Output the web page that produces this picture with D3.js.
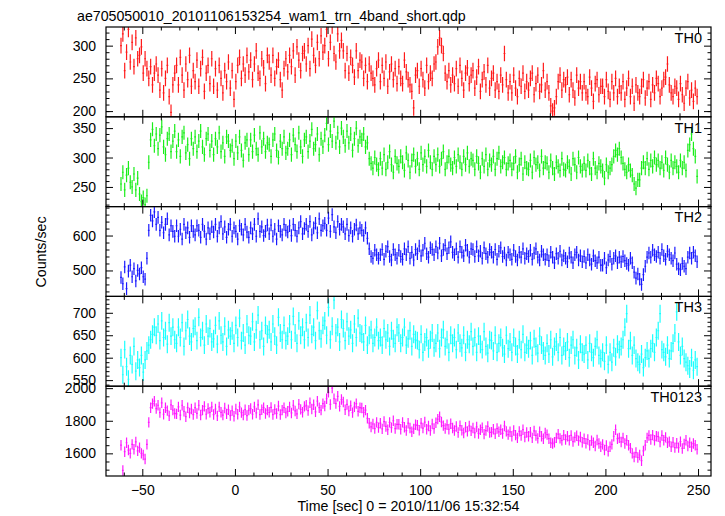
<!DOCTYPE html>
<html><head><meta charset="utf-8">
<script src="https://cdn.jsdelivr.net/npm/d3@7"></script>
<style>
body{margin:0;background:#fff}
text{font-family:"Liberation Sans",Arial,Helvetica,sans-serif;fill:#000}
</style>
</head><body>
<svg id="c" width="725" height="516"></svg>
<script>
const title = "ae705050010_20101106153254_wam1_trn_4band_short.qdp";
const xLabel = "Time [sec] 0 = 2010/11/06 15:32:54";
const yLabel = "Counts/sec";
const bandNames = ["TH0","TH1","TH2","TH3","TH0123"];
const bandColors = ["#ff1a1a","#1aee1a","#1a1aff","#1affff","#ff1aff"];
const binStart = -62;   // first bin start time (sec)
const binSize = 1;      // sec

const th0 = [
300,318,262,290,325,275,305,268,312,280,
285,298,258,280,265,250,268,240,258,272,
255,232,265,228,250,270,222,198,240,258,
270,240,282,255,232,272,248,285,238,262,
245,278,238,265,282,230,258,270,242,280,
238,265,232,270,250,228,262,245,275,235,
262,218,245,270,282,250,272,255,285,260,
278,248,272,292,258,250,280,266,242,285,
275,255,285,250,268,278,248,232,265,280,
260,285,268,292,255,298,278,262,288,292,
272,300,265,310,285,270,305,280,315,290,
300,325,280,305,330,288,275,318,292,308,
292,262,288,258,282,270,252,292,262,278,
275,250,270,245,272,258,250,240,265,278,
245,270,250,275,238,260,272,248,265,242,
268,250,242,278,260,248,240,230,205,255,
262,238,265,248,235,270,245,258,250,272,
275,298,312,300,288,258,245,262,240,255,
242,265,238,270,250,232,258,266,242,255,
262,235,252,268,230,248,260,240,270,235,
250,258,232,245,230,255,240,288,248,228,
245,228,255,235,222,250,238,258,230,245,
232,250,258,225,242,255,230,240,262,232,
245,228,208,200,205,222,245,255,232,248,
240,252,225,248,232,220,255,235,245,228,
245,228,222,252,235,215,242,248,225,238,
238,222,248,230,218,245,228,250,222,238,
228,245,218,235,250,222,238,212,240,228,
222,238,248,220,235,245,218,240,228,250,
242,222,235,248,252,272,240,228,222,238,
235,218,242,225,212,235,245,220,232,215,
235,222];

const th1 = [
255,275,245,270,282,258,250,272,245,265,
238,225,232,220,235,292,330,348,320,340,
315,338,352,318,305,332,340,310,328,345,
310,330,302,335,342,308,322,298,332,315,
335,310,328,345,318,305,332,340,312,328,
305,332,318,342,310,325,302,335,328,312,
320,298,328,308,335,312,295,325,330,305,
330,310,338,315,305,342,318,332,310,325,
322,302,330,340,312,300,328,315,335,308,
315,330,305,338,322,310,342,318,302,330,
335,310,328,348,315,322,340,305,332,318,
338,358,322,345,328,362,325,342,318,350,
335,320,345,325,340,312,332,350,320,335,
330,340,318,325,298,290,282,300,288,280,
298,282,305,280,292,310,288,275,302,290,
285,302,292,278,308,295,275,295,305,285,
298,280,308,288,302,285,312,292,280,302,
288,305,285,298,310,280,292,302,288,282,
300,285,305,292,280,302,288,308,285,298,
295,280,302,290,275,298,285,305,280,295,
288,302,280,298,308,285,292,300,280,290,
295,280,290,302,275,288,298,272,292,282,
280,295,275,300,288,292,278,302,282,292,
290,275,295,282,272,292,285,278,298,280,
278,292,285,272,298,288,275,300,285,278,
290,278,295,282,272,298,282,275,290,285,
278,265,288,275,282,288,302,312,305,315,
300,290,280,275,288,278,270,255,248,262,
262,282,292,282,298,280,295,285,300,288,
295,282,292,278,300,288,275,295,282,292,
285,275,295,282,292,278,312,322,340,315,
302,268];

const th2 = [
480,462,510,448,498,515,482,505,470,500,
490,508,482,475,535,615,658,642,668,632,
652,615,638,608,632,648,602,628,612,598,
628,598,618,590,632,608,622,595,628,612,
602,628,615,595,632,612,590,622,605,625,
610,632,598,622,640,605,625,595,618,632,
598,622,612,590,628,618,602,632,610,595,
622,605,632,598,648,612,625,600,612,630,
605,630,598,618,590,628,612,602,632,615,
610,628,600,632,615,598,622,640,605,620,
632,612,640,602,622,635,608,648,615,628,
635,615,650,612,660,625,608,640,618,632,
625,605,632,600,622,598,618,630,605,622,
615,600,622,592,562,540,535,558,545,535,
545,560,532,555,568,540,530,560,545,535,
558,540,532,562,545,568,535,552,530,560,
548,570,542,558,578,548,538,565,560,545,
568,550,578,542,560,572,548,565,582,552,
545,562,538,568,552,542,572,558,538,562,
560,540,568,542,555,535,565,548,538,560,
552,538,560,532,555,565,540,550,530,552,
545,532,558,540,530,552,538,562,535,548,
540,558,532,550,562,538,530,555,545,532,
545,528,552,538,522,548,535,555,530,542,
535,525,550,538,522,545,552,530,542,525,
540,522,545,530,518,542,528,522,538,515,
515,535,508,530,540,518,535,542,522,538,
525,540,528,520,515,535,522,495,478,490,
475,460,488,512,538,550,538,558,545,540,
552,535,560,542,532,555,545,535,528,550,
518,505,502,520,512,505,538,550,535,552,
542,525];

const th3 = [
600,562,618,580,552,605,585,625,570,595,
578,605,568,595,615,628,640,652,668,650,
675,638,682,645,660,630,678,648,668,640,
632,668,645,678,625,660,685,648,635,665,
670,638,690,645,660,628,675,648,665,635,
642,672,630,682,650,635,670,625,662,648,
660,632,672,645,688,638,655,628,675,650,
648,680,635,662,695,640,660,625,672,652,
662,635,675,648,628,690,655,640,672,638,
648,675,640,692,655,632,682,650,668,640,
678,645,695,652,668,638,705,660,642,672,
682,650,712,640,670,728,655,668,635,685,
665,638,680,648,662,632,675,645,688,655,
652,635,672,628,650,662,632,645,668,638,
645,628,665,640,655,625,660,642,632,668,
655,632,645,668,628,642,660,625,652,640,
638,618,652,612,635,645,620,640,655,622,
632,655,620,645,662,625,640,612,650,632,
645,618,655,632,622,650,612,640,630,658,
625,645,612,648,630,618,658,625,610,640,
638,615,650,612,632,645,622,608,650,620,
635,612,645,625,608,640,618,652,612,628,
620,638,605,642,625,610,648,628,615,605,
632,608,640,602,625,635,612,645,605,625,
615,635,600,628,640,605,622,595,630,612,
608,628,595,632,612,600,625,640,605,598,
612,592,628,585,612,590,622,602,630,618,
625,640,668,698,620,638,605,628,598,590,
585,608,578,600,615,598,620,632,612,645,
660,698,618,612,602,628,598,615,632,655,
702,635,605,625,598,590,582,575,600,572,
595,580];

const th0123 = [
1650,1495,1610,1665,1620,1600,1655,1625,1670,1615,
1635,1600,1590,1565,1655,1790,1880,1905,1920,1875,
1895,1850,1910,1840,1880,1862,1830,1898,1865,1845,
1842,1885,1835,1895,1858,1825,1880,1848,1872,1838,
1880,1845,1895,1835,1865,1888,1840,1875,1852,1885,
1838,1872,1830,1885,1852,1835,1878,1842,1868,1832,
1862,1828,1872,1840,1885,1850,1835,1868,1832,1865,
1875,1840,1885,1848,1898,1838,1868,1880,1845,1865,
1852,1882,1838,1870,1845,1890,1838,1865,1880,1848,
1858,1885,1848,1895,1860,1842,1902,1870,1852,1888,
1895,1862,1910,1872,1898,1855,1920,1880,1865,1905,
1890,1935,1975,1900,2000,1935,1905,1950,1888,1930,
1915,1868,1900,1860,1892,1850,1885,1905,1858,1880,
1878,1852,1865,1815,1785,1762,1780,1752,1790,1758,
1785,1750,1795,1765,1745,1790,1758,1800,1752,1778,
1778,1748,1790,1760,1740,1785,1755,1732,1750,1775,
1772,1742,1785,1755,1792,1748,1768,1740,1780,1752,
1788,1810,1825,1792,1770,1752,1775,1748,1782,1755,
1740,1765,1728,1770,1742,1725,1760,1735,1768,1738,
1755,1725,1762,1722,1745,1758,1718,1740,1765,1728,
1730,1748,1720,1752,1732,1745,1722,1768,1735,1715,
1732,1705,1740,1712,1695,1735,1710,1745,1700,1728,
1705,1730,1695,1738,1710,1692,1732,1705,1690,1725,
1715,1690,1665,1660,1668,1695,1718,1692,1680,1712,
1685,1705,1680,1710,1672,1698,1708,1678,1700,1668,
1690,1662,1685,1650,1678,1665,1645,1682,1660,1640,
1655,1620,1648,1612,1640,1655,1705,1745,1690,1695,
1670,1695,1660,1680,1650,1632,1600,1578,1605,1575,
1590,1555,1615,1650,1695,1710,1685,1712,1680,1705,
1702,1670,1710,1680,1698,1665,1672,1640,1668,1635,
1662,1635,1672,1630,1658,1680,1645,1665,1640,1660,
1650,1625];

const bandValues = [th0, th1, th2, th3, th0123];
const bandErrors = [12, 12, 18, 20, 32];
const yDomains = [[191.3,328.5],[216.6,369.2],[425.7,682.9],[536.5,736.5],[1461,2012]];
const yMajorTicks = [[200,250,300],[250,300,350],[500,600],[550,600,650,700],[1600,1800,2000]];
const yMinorTicks = [
  [200,210,220,230,240,260,270,280,290,310,320],
  [220,230,240,260,270,280,290,310,320,330,340,360],
  [440,460,480,520,540,560,580,620,640,660,680],
  [540,560,570,580,590,610,620,630,640,660,670,680,690,710,720,730],
  [1500,1550,1650,1700,1750,1850,1900,1950]
];
const xDomain = [-69.6, 257];
const xMajorTicks = [-50,0,50,100,150,200,250];
const xMinorTicks = [-60,-40,-30,-20,-10,10,20,30,40,60,70,80,90,110,120,130,140,160,170,180,190,210,220,230,240];

const svg = d3.select("#c");
const L = 106, R = 711, T = 27, B = 476;
const nP = 5, ph = (B - T) / nP;
const x = d3.scaleLinear().domain(xDomain).range([L, R]);

svg.append("text").attr("x", 77).attr("y", 20.5).attr("font-size", 14.2).text(title);

bandValues.forEach((vals, p) => {
  const top = T + p * ph, bot = top + ph;
  const y = d3.scaleLinear().domain(yDomains[p]).range([bot, top]);
  const g = svg.append("g");
  const cid = "clip" + p;
  svg.append("clipPath").attr("id", cid).append("rect")
    .attr("x", L).attr("y", top).attr("width", R - L).attr("height", ph);
  const err = bandErrors[p];
  let d = "";
  vals.forEach((v, i) => {
    const t0 = binStart + i * binSize, t1 = t0 + binSize, tc = t0 + binSize / 2;
    d += `M${x(t0)},${y(v)}H${x(t1)}M${x(tc)},${y(v + err)}V${y(v - err)}`;
  });
  g.append("path").attr("d", d).attr("clip-path", `url(#${cid})`)
    .attr("fill", "none").attr("stroke", bandColors[p]).attr("stroke-width", 1.2);

  const mk = (axis, tr) => {
    const a = g.append("g").attr("transform", tr).call(axis);
    a.select(".domain").remove();
    a.selectAll("line").attr("stroke", "#000").attr("stroke-width", 1);
    a.selectAll("text").attr("font-size", 14).attr("font-family", '"Liberation Sans",Arial,sans-serif');
    return a;
  };
  mk(d3.axisLeft(y).tickValues(yMajorTicks[p]).tickSize(-7).tickPadding(10).tickFormat(d3.format("d")), `translate(${L},0)`);
  mk(d3.axisLeft(y).tickValues(yMinorTicks[p]).tickSize(-3.5).tickFormat(""), `translate(${L},0)`);
  mk(d3.axisRight(y).tickValues(yMajorTicks[p]).tickSize(-7).tickFormat(""), `translate(${R},0)`);
  mk(d3.axisRight(y).tickValues(yMinorTicks[p]).tickSize(-3.5).tickFormat(""), `translate(${R},0)`);
  mk(d3.axisTop(x).tickValues(xMajorTicks).tickSize(-7).tickFormat(""), `translate(0,${top})`);
  mk(d3.axisTop(x).tickValues(xMinorTicks).tickSize(-3.5).tickFormat(""), `translate(0,${top})`);
  mk(d3.axisBottom(x).tickValues(xMajorTicks).tickSize(-7).tickPadding(9)
      .tickFormat(p === nP - 1 ? d3.format("d") : ""), `translate(0,${bot})`);
  mk(d3.axisBottom(x).tickValues(xMinorTicks).tickSize(-3.5).tickFormat(""), `translate(0,${bot})`);

  g.append("rect").attr("x", L).attr("y", top).attr("width", R - L).attr("height", ph)
    .attr("fill", "none").attr("stroke", "#000").attr("stroke-width", 1.2);
  g.append("text").attr("x", 702).attr("y", top + 15.8).attr("text-anchor", "end")
    .attr("font-size", 14.5).text(bandNames[p]);
});

svg.append("text").attr("x", (L + R) / 2).attr("y", 511).attr("text-anchor", "middle")
  .attr("font-size", 14.2).text(xLabel);
svg.append("text").attr("transform", `translate(46,252) rotate(-90)`).attr("text-anchor", "middle")
  .attr("font-size", 14.2).text(yLabel);
</script>
</body></html>
